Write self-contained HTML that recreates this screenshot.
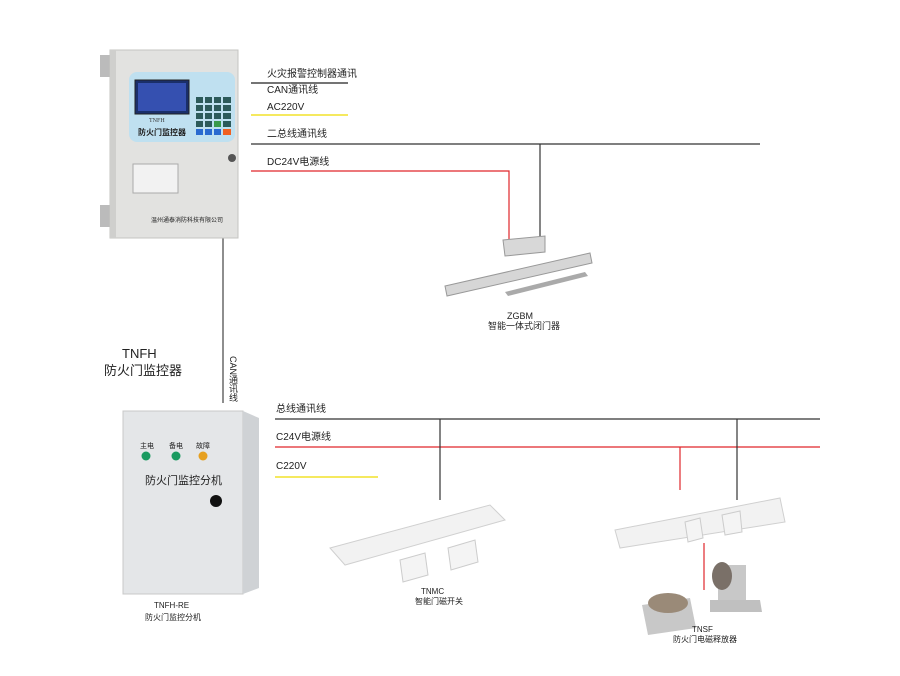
<!DOCTYPE html>
<html><head><meta charset="utf-8"><style>
body{margin:0;background:#fff;}
#c{position:relative;width:900px;height:676px;overflow:hidden;background:#fff;font-family:"Liberation Sans","Noto Sans CJK SC",sans-serif;color:#222;}
.t{position:absolute;font-size:10px;white-space:nowrap;line-height:1;}
.a{position:absolute;}
</style></head><body><div id="c">
<svg class="a" style="left:0;top:0" width="900" height="676">
<line x1="251" y1="83" x2="348" y2="83" stroke="#222" stroke-width="1.2"/>
<line x1="251" y1="115" x2="348" y2="115" stroke="#f2e22a" stroke-width="1.5"/>
<line x1="251" y1="144" x2="760" y2="144" stroke="#333" stroke-width="1.2"/>
<polyline points="251,171 509,171 509,243" fill="none" stroke="#e0262a" stroke-width="1.2"/>
<line x1="540" y1="144" x2="540" y2="240" stroke="#333" stroke-width="1.2"/>
<line x1="223" y1="236" x2="223" y2="403" stroke="#444" stroke-width="1.2"/>
<line x1="275" y1="419" x2="820" y2="419" stroke="#333" stroke-width="1.2"/>
<line x1="275" y1="447" x2="820" y2="447" stroke="#e0262a" stroke-width="1.2"/>
<line x1="275" y1="477" x2="378" y2="477" stroke="#f2e22a" stroke-width="1.5"/>
<line x1="440" y1="419" x2="440" y2="500" stroke="#333" stroke-width="1.2"/>
<line x1="737" y1="419" x2="737" y2="500" stroke="#333" stroke-width="1.2"/>
<line x1="680" y1="447" x2="680" y2="490" stroke="#e0262a" stroke-width="1.2"/>
<line x1="704" y1="543" x2="704" y2="590" stroke="#e0262a" stroke-width="1.2"/>

<rect x="100" y="55" width="10" height="22" fill="#bbb"/>
<rect x="100" y="205" width="10" height="22" fill="#bbb"/>
<rect x="110" y="50" width="128" height="188" fill="#e2e2e0" stroke="#c4c4c2"/>
<rect x="110" y="50" width="6" height="188" fill="#cfcfcd"/>
<rect x="129" y="72" width="106" height="70" rx="8" fill="#bfe0f0"/>
<rect x="135" y="80" width="54" height="34" fill="#1a2f6a" stroke="#222"/>
<rect x="138" y="83" width="48" height="28" fill="#3550b0"/>
<g fill="#2c5a5a">
<rect x="196" y="97" width="7" height="6"/><rect x="205" y="97" width="7" height="6"/><rect x="214" y="97" width="7" height="6"/><rect x="223" y="97" width="8" height="6"/>
<rect x="196" y="105" width="7" height="6"/><rect x="205" y="105" width="7" height="6"/><rect x="214" y="105" width="7" height="6"/><rect x="223" y="105" width="8" height="6"/>
<rect x="196" y="113" width="7" height="6"/><rect x="205" y="113" width="7" height="6"/><rect x="214" y="113" width="7" height="6"/><rect x="223" y="113" width="8" height="6"/>
<rect x="196" y="121" width="7" height="6"/><rect x="205" y="121" width="7" height="6"/></g>
<rect x="214" y="121" width="7" height="6" fill="#3a9a4a"/><rect x="223" y="121" width="8" height="6" fill="#2c5a5a"/>
<rect x="196" y="129" width="7" height="6" fill="#2a6ad0"/><rect x="205" y="129" width="7" height="6" fill="#2a6ad0"/><rect x="214" y="129" width="7" height="6" fill="#2a6ad0"/><rect x="223" y="129" width="8" height="6" fill="#f06020"/>
<rect x="133" y="164" width="45" height="29" fill="#f2f2f2" stroke="#aaa"/>
<circle cx="232" cy="158" r="4" fill="#555"/>
<polygon points="503,240 545,236 545,252 505,256" fill="#d8d8d8" stroke="#999"/>
<polygon points="445,286 590,253 592,263 447,296" fill="#d6d6d6" stroke="#999"/>
<polygon points="505,292 585,272 588,276 508,296" fill="#aaa"/>
<rect x="123" y="411" width="120" height="183" fill="#e4e6e8" stroke="#c8c8c8"/>
<polygon points="243,411 259,418 259,588 243,594" fill="#cfd2d5"/>
<circle cx="146" cy="456" r="4.5" fill="#1a9a60"/>
<circle cx="176" cy="456" r="4.5" fill="#1a9a60"/>
<circle cx="203" cy="456" r="4.5" fill="#e6a020"/>
<circle cx="216" cy="501" r="6" fill="#111"/>
<polygon points="330,548 490,505 505,520 345,565" fill="#f2f2f2" stroke="#d0d0d0"/>
<polygon points="400,560 425,553 428,575 403,582" fill="#f4f4f4" stroke="#ccc"/>
<polygon points="448,548 475,540 478,562 451,570" fill="#f4f4f4" stroke="#ccc"/>
<polygon points="615,530 780,498 785,522 620,548" fill="#f2f2f2" stroke="#d0d0d0"/>
<polygon points="685,522 700,518 703,538 688,542" fill="#f4f4f4" stroke="#ccc"/>
<polygon points="722,515 740,511 742,532 725,535" fill="#f4f4f4" stroke="#ccc"/>
<polygon points="642,605 690,598 696,628 648,635" fill="#c8c8c8"/>
<ellipse cx="668" cy="603" rx="20" ry="10" fill="#9a8a78"/>
<rect x="718" y="565" width="28" height="40" fill="#c8c8c8"/>
<polygon points="710,600 760,600 762,612 710,612" fill="#c0c0c0"/>
<ellipse cx="722" cy="576" rx="10" ry="14" fill="#7a7068"/>
</svg>
<div class="t" style="left:267px;top:70px">火灾报警控制器通讯</div>
<div class="t" style="left:267px;top:86px">CAN通讯线</div>
<div class="t" style="left:267px;top:103px">AC220V</div>
<div class="t" style="left:267px;top:130px">二总线通讯线</div>
<div class="t" style="left:267px;top:158px">DC24V电源线</div>
<div class="t" style="left:149px;top:118px;font-size:6px;font-family:'Liberation Serif',serif;color:#333">TNFH</div>
<div class="t" style="left:138px;top:129px;font-size:8px;font-weight:bold">防火门监控器</div>
<div class="t" style="left:151px;top:218px;font-size:6px">温州通泰消防科技有限公司</div>
<div class="t" style="left:505px;top:312px;font-size:9px;width:30px;text-align:center">ZGBM</div>
<div class="t" style="left:488px;top:322px;font-size:9px">智能一体式闭门器</div>
<div class="t" style="left:122px;top:347px;font-size:13px">TNFH</div>
<div class="t" style="left:104px;top:364px;font-size:13px">防火门监控器</div>
<div class="t" style="left:228px;top:356px;font-size:9px;writing-mode:vertical-rl">CAN通讯线</div>
<div class="t" style="left:276px;top:405px">总线通讯线</div>
<div class="t" style="left:276px;top:433px">C24V电源线</div>
<div class="t" style="left:276px;top:462px">C220V</div>
<div class="t" style="left:140px;top:443px;font-size:7px">主电</div>
<div class="t" style="left:169px;top:443px;font-size:7px">备电</div>
<div class="t" style="left:196px;top:443px;font-size:7px">故障</div>
<div class="t" style="left:145px;top:476px;font-size:11px">防火门监控分机</div>
<div class="t" style="left:154px;top:602px;font-size:8px">TNFH-RE</div>
<div class="t" style="left:145px;top:614px;font-size:8px">防火门监控分机</div>
<div class="t" style="left:421px;top:588px;font-size:8px">TNMC</div>
<div class="t" style="left:415px;top:598px;font-size:8px">智能门磁开关</div>
<div class="t" style="left:692px;top:626px;font-size:8px">TNSF</div>
<div class="t" style="left:673px;top:636px;font-size:8px">防火门电磁释放器</div>
</div></body></html>
